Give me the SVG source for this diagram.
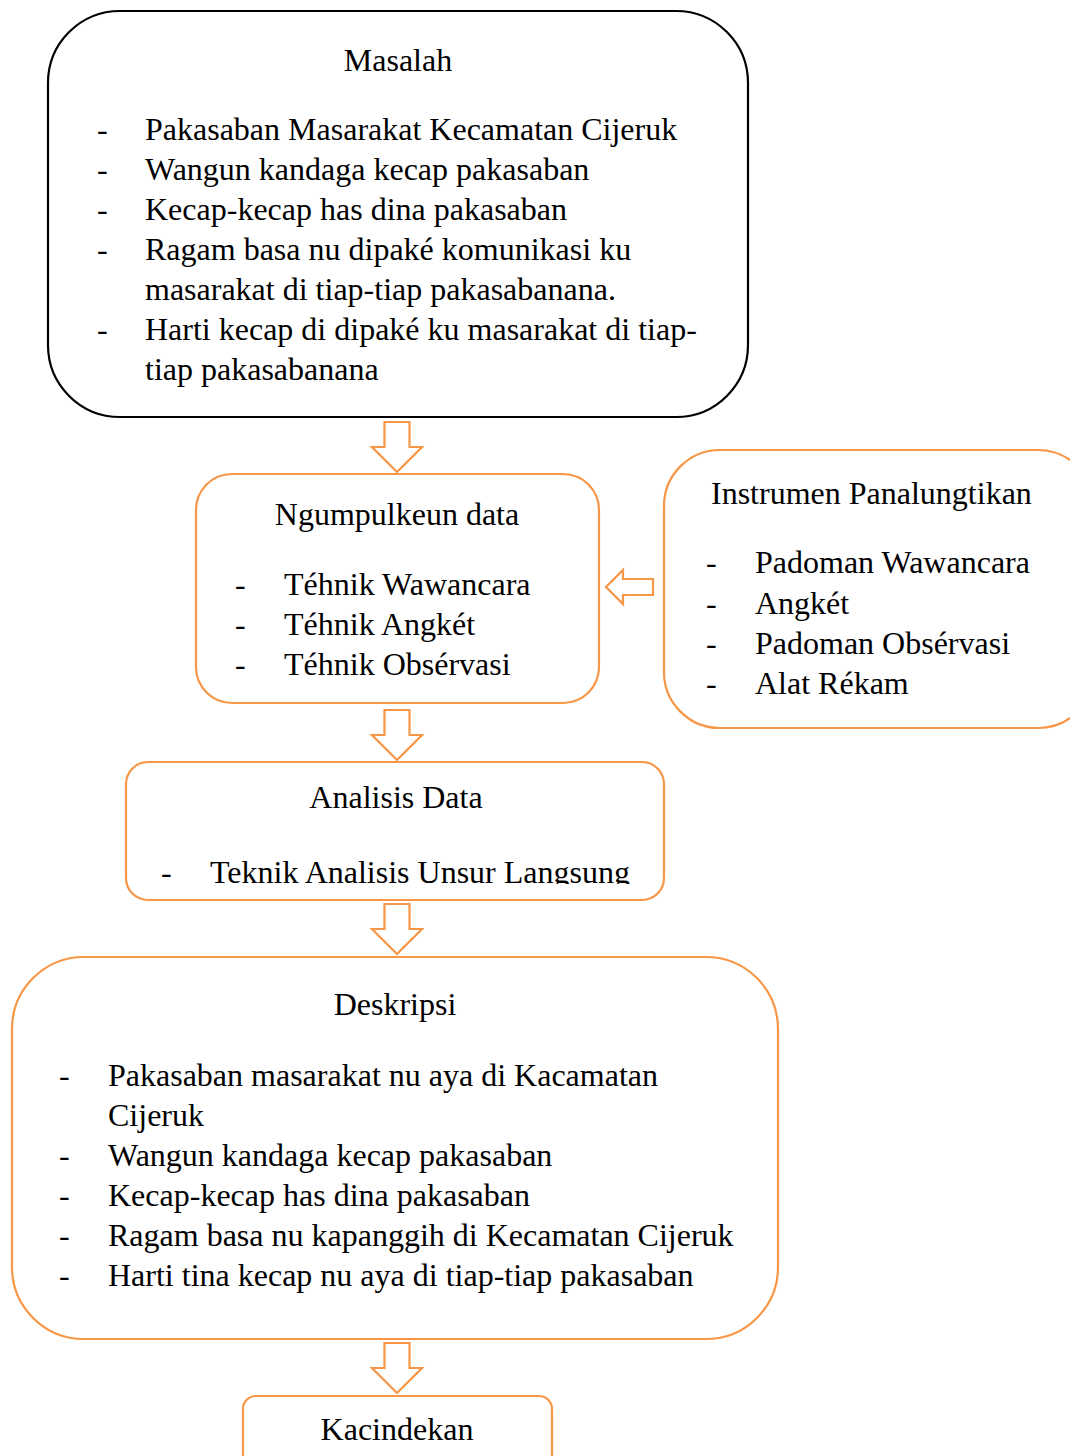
<svg xmlns="http://www.w3.org/2000/svg" width="1070" height="1456" viewBox="0 0 1070 1456">
<style>
.t{font-family:"Liberation Serif","Times New Roman",serif;font-size:32px;fill:#000}
.c{text-anchor:middle}
.box{fill:#fff;stroke:#F79646;stroke-width:2.2}
.boxk{fill:#fff;stroke:#000;stroke-width:2.2}
.arr{fill:#fff;stroke:#F79646;stroke-width:2.2;stroke-linejoin:miter}
</style>
<defs>
<path id="down" d="M-12.5,0 H12.5 V25 H25 L0,50 L-25,25 H-12.5 Z"/>
<clipPath id="clipA"><rect x="126" y="762" width="538" height="122"/></clipPath>
</defs>
<g id="connectors">
<use href="#down" class="arr" x="397" y="422"/>
<use href="#down" class="arr" x="397" y="710"/>
<use href="#down" class="arr" x="397" y="904"/>
<use href="#down" class="arr" x="397" y="1343"/>
<path class="arr" d="M606,587 L623,570 V579 H653 V595 H623 V604 Z"/>
</g>
<g id="masalah">
<rect class="boxk" x="48" y="11" width="700" height="406" rx="72"/>
<text class="t c" x="398" y="71">Masalah</text>
<text class="t" x="97" y="140">-</text><text class="t" x="145" y="140">Pakasaban Masarakat Kecamatan Cijeruk</text>
<text class="t" x="97" y="180">-</text><text class="t" x="145" y="180">Wangun kandaga kecap pakasaban</text>
<text class="t" x="97" y="220">-</text><text class="t" x="145" y="220">Kecap-kecap has dina pakasaban</text>
<text class="t" x="97" y="260">-</text><text class="t" x="145" y="260">Ragam basa nu dipaké komunikasi ku</text>
<text class="t" x="145" y="300">masarakat di tiap-tiap pakasabanana.</text>
<text class="t" x="97" y="340">-</text><text class="t" x="145" y="340">Harti kecap di dipaké ku masarakat di tiap-</text>
<text class="t" x="145" y="380">tiap pakasabanana</text>
</g>
<g id="ngumpulkeun">
<rect class="box" x="196" y="474" width="403" height="229" rx="36"/>
<text class="t c" x="397" y="525">Ngumpulkeun data</text>
<text class="t" x="235" y="595">-</text><text class="t" x="284" y="595">Téhnik Wawancara</text>
<text class="t" x="235" y="635">-</text><text class="t" x="284" y="635">Téhnik Angkét</text>
<text class="t" x="235" y="675">-</text><text class="t" x="284" y="675">Téhnik Obsérvasi</text>
</g>
<g id="instrumen">
<rect class="box" x="664" y="450" width="430" height="278" rx="56"/>
<text class="t" x="711" y="504">Instrumen Panalungtikan</text>
<text class="t" x="706" y="573">-</text><text class="t" x="755" y="573">Padoman Wawancara</text>
<text class="t" x="706" y="614">-</text><text class="t" x="755" y="614">Angkét</text>
<text class="t" x="706" y="654">-</text><text class="t" x="755" y="654">Padoman Obsérvasi</text>
<text class="t" x="706" y="694">-</text><text class="t" x="755" y="694">Alat Rékam</text>
</g>
<g id="analisis">
<rect class="box" x="126" y="762" width="538" height="138" rx="22"/>
<text class="t c" x="396" y="808">Analisis Data</text>
<g clip-path="url(#clipA)">
<text class="t" x="161" y="883">-</text><text class="t" x="210" y="883">Teknik Analisis Unsur Langsung</text>
</g>
</g>
<g id="deskripsi">
<rect class="box" x="12" y="957" width="766" height="382" rx="72"/>
<text class="t c" x="395" y="1015">Deskripsi</text>
<text class="t" x="59" y="1086">-</text><text class="t" x="108" y="1086">Pakasaban masarakat nu aya di Kacamatan</text>
<text class="t" x="108" y="1126">Cijeruk</text>
<text class="t" x="59" y="1166">-</text><text class="t" x="108" y="1166">Wangun kandaga kecap pakasaban</text>
<text class="t" x="59" y="1206">-</text><text class="t" x="108" y="1206">Kecap-kecap has dina pakasaban</text>
<text class="t" x="59" y="1246">-</text><text class="t" x="108" y="1246">Ragam basa nu kapanggih di Kecamatan Cijeruk</text>
<text class="t" x="59" y="1286">-</text><text class="t" x="108" y="1286">Harti tina kecap nu aya di tiap-tiap pakasaban</text>
</g>
<g id="kacindekan">
<rect class="box" x="243" y="1396" width="309" height="100" rx="13"/>
<text class="t c" x="397" y="1440">Kacindekan</text>
</g>
</svg>
